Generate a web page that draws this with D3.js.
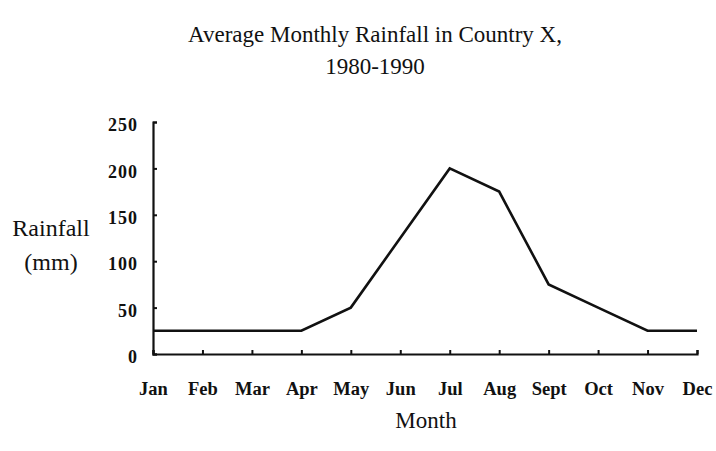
<!DOCTYPE html>
<html>
<head>
<meta charset="utf-8">
<script src="https://cdn.jsdelivr.net/npm/d3@7"></script>
<style>
  body { margin: 0; background: #fff; }
  svg text { font-family: "Liberation Serif", "Times New Roman", serif; fill: #111; }
</style>
</head>
<body>
<div id="canvas"></div>
<script>
// months and average rainfall (mm)
var months = ['Jan','Feb','Mar','Apr','May','Jun','Jul','Aug','Sept','Oct','Nov','Dec'];
var rainfall = [25, 25, 25, 25, 50, 125, 200, 175, 75, 50, 25, 25];
var yTicks = [0, 50, 100, 150, 200, 250];

var W = 716, H = 451;
var m = {t:122, r:19, b:97, l:153},
    w = W - m.l - m.r,
    h = H - m.t - m.b;

var svg = d3.select('#canvas')
    .append('svg')
    .attr('width', W)
    .attr('height', H);

var plot = svg.append('g')
    .attr('transform', 'translate(' + m.l + ',' + m.t + ')');

var x = d3.scalePoint().domain(months).range([0, w]);
var y = d3.scaleLinear().domain([0, 250]).range([h, 0]);

// y axis
var yAxis = plot.append('g')
    .call(d3.axisLeft(y).tickValues(yTicks).tickSize(-4).tickPadding(15));
yAxis.select('.domain').attr('stroke', '#111').attr('stroke-width', 2.2);
yAxis.selectAll('.tick line').attr('stroke', '#111').attr('stroke-width', 2);
yAxis.selectAll('.tick text')
    .attr('y', 3)
    .style('font-size', '18px').style('font-weight', 'bold')
    .style('letter-spacing', '1px');

// x axis
var xAxis = plot.append('g')
    .attr('transform', 'translate(0,' + h + ')')
    .call(d3.axisBottom(x).tickSize(-4).tickPadding(28));
xAxis.select('.domain').attr('stroke', '#111').attr('stroke-width', 2.2);
xAxis.selectAll('.tick line').attr('stroke', '#111').attr('stroke-width', 2);
xAxis.selectAll('.tick text')
    .style('font-size', '18.5px').style('font-weight', 'bold');

// rainfall line
var line = d3.line()
    .x(function(d, i){ return x(months[i]); })
    .y(function(d){ return y(d); });

plot.append('path')
    .datum(rainfall)
    .attr('d', line)
    .attr('fill', 'none')
    .attr('stroke', '#111')
    .attr('stroke-width', 2.6)
    .attr('stroke-linejoin', 'miter');

// titles
svg.append('text')
    .attr('x', 375).attr('y', 42)
    .attr('text-anchor', 'middle')
    .style('font-size', '23px')
    .text('Average Monthly Rainfall in Country X,');
svg.append('text')
    .attr('x', 375).attr('y', 74)
    .attr('text-anchor', 'middle')
    .style('font-size', '23px')
    .text('1980-1990');

svg.append('text')
    .attr('x', 51).attr('y', 236)
    .attr('text-anchor', 'middle')
    .style('font-size', '24px')
    .text('Rainfall');
svg.append('text')
    .attr('x', 51).attr('y', 270)
    .attr('text-anchor', 'middle')
    .style('font-size', '24px')
    .text('(mm)');

svg.append('text')
    .attr('x', 426).attr('y', 428)
    .attr('text-anchor', 'middle')
    .style('font-size', '23px')
    .text('Month');
</script>
</body>
</html>
